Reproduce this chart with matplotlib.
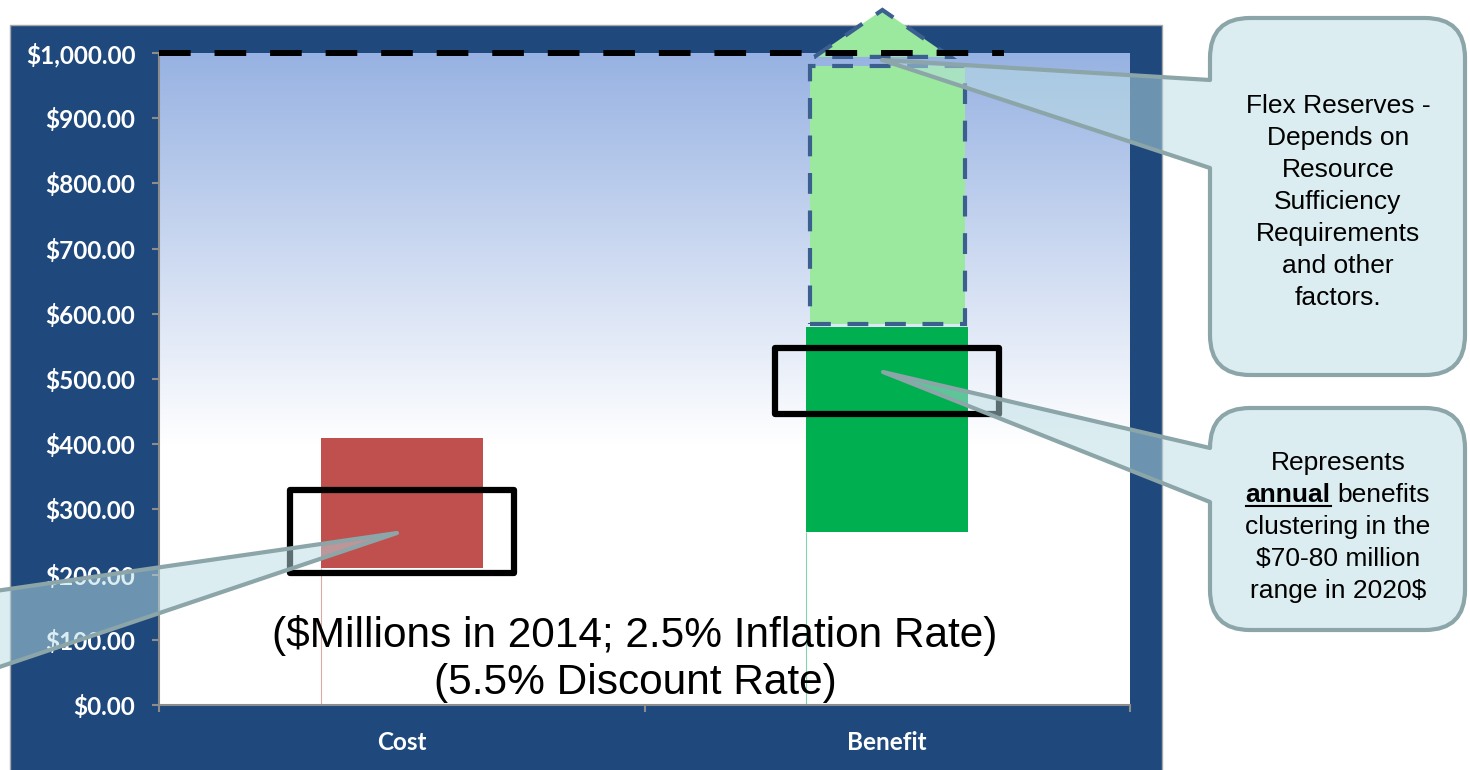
"""
Cost vs benefit ranges with flex reserve upside
"""

import numpy as np
import matplotlib
matplotlib.use("Agg")
import matplotlib.pyplot as plt
from matplotlib.patches import Rectangle, Polygon, PathPatch
from matplotlib.path import Path
from matplotlib.lines import Line2D
from matplotlib.colors import to_rgb, to_rgba

# ---- data ($ millions) ----
categories = ["Cost", "Benefit"]
firm_low = [210, 265]
firm_high = [410, 580]
firm_colors = ["#C0504D", "#00B050"]
cluster_low = [202, 447]
cluster_high = [330, 548]
flex_low = 585
flex_high = 980
flex_arrow_base = 994
flex_arrow_top = 1066
cap_value = 1000
y_ticks = np.arange(0, 1001, 100)

flex_text = ["Flex Reserves -", "Depends on", "Resource", "Sufficiency",
             "Requirements", "and other", "factors."]
annual_text = ["Represents", None, "clustering in the", "$70-80 million",
               "range in 2020$"]

W, H = 1470, 770
plt.rcParams['font.family'] = ['Liberation Sans', 'DejaVu Sans']

fig = plt.figure(figsize=(14.7, 7.7), dpi=100)
fig.set_facecolor("white")


def fpt(x, y):
    # pixel position (origin top left) -> figure fraction
    return (x / W, 1 - y / H)


# dark chart frame
frame = Rectangle(fpt(10, 772), 1152 / W, 747 / H, transform=fig.transFigure,
                  facecolor="#1F497D", edgecolor="#A6A6A6", lw=1, zorder=-1)
fig.add_artist(frame)

ax = fig.add_axes([159 / W, 1 - 705 / H, 971 / W, 652 / H])
ax.set_zorder(0)

# plot area gradient: light blue at the top fading to white
top = np.array(to_rgb("#97B2E2"))
vals = np.linspace(0, 1000, 400)
frac = np.clip((vals - 400) / 600, 0, 1)[::-1]
grad = 1 - frac[:, None] * (1 - top[None, :])
ax.imshow(grad[:, None, :], extent=[-0.5, 1.5, 0, 1000], aspect="auto",
          zorder=0, interpolation="bilinear")

x = np.arange(len(categories))
bar_w = 0.333
heights = [h - l for l, h in zip(firm_low, firm_high)]
ax.bar(x, heights, bottom=firm_low, width=bar_w, color=firm_colors, zorder=2)
ax.vlines(x - bar_w / 2, 0, firm_low, colors=firm_colors, lw=0.8, alpha=0.5, zorder=2)

# flex reserves block and arrow
flex_w = 0.32
ax.add_patch(Rectangle((1 - flex_w / 2, flex_low), flex_w, flex_high - flex_low,
                       facecolor="#9AE99E", edgecolor="#3B5F8F", lw=3,
                       ls=(0, (5, 4)), zorder=2))
ax.add_patch(Polygon([(0.85, flex_arrow_base), (0.99, flex_arrow_top), (1.13, flex_arrow_base)],
                     closed=True, facecolor="#9AE99E", edgecolor="#3B5F8F", lw=3,
                     ls=(0, (5, 4)), zorder=3, clip_on=False))

# cap line
ax.plot([-0.5, 1.24], [cap_value, cap_value], color="black", lw=4.3,
        ls=(0, (5.3, 4)), clip_on=False, zorder=4, dash_capstyle="butt")

# clustering boxes
box_w = 0.462
for xi, lo, hi in zip(x, cluster_low, cluster_high):
    ax.add_patch(Rectangle((xi - box_w / 2, lo), box_w, hi - lo, fill=False,
                           edgecolor="black", lw=4.5, joinstyle="round", zorder=3))

ax.set_xlim(-0.5, 1.5)
ax.set_ylim(0, 1000)
ax.set_yticks(y_ticks)
ax.set_yticklabels(["${:,.2f}".format(v) for v in y_ticks])
ax.set_xticks(x)
ax.set_xticklabels(categories)
ax.set_xticks([-0.5, 0.5, 1.5], minor=True)
for sp in ["top", "right"]:
    ax.spines[sp].set_visible(False)
for sp in ["left", "bottom"]:
    ax.spines[sp].set_color("#8C8C8C")
    ax.spines[sp].set_linewidth(1.5)
ax.tick_params(axis="y", colors="#8C8C8C", length=5, width=1.5, pad=12)
ax.tick_params(axis="x", which="major", length=0, pad=19)
ax.tick_params(axis="x", which="minor", colors="#8C8C8C", length=5, width=1.5)
for lab in ax.get_yticklabels() + ax.get_xticklabels():
    lab.set_color("white")
    lab.set_fontfamily("Lato")
    lab.set_fontweight("bold")
    lab.set_fontsize(17.5)

fig.text(*fpt(635, 659), "($Millions in 2014; 2.5% Inflation Rate)\n(5.5% Discount Rate)",
         fontsize=30.5, ha="center", va="center", linespacing=1.2, zorder=1)


# callout shapes
def callout(x0, y0, x1, y1, r, tip, j0, j1):
    pts = [(x0 + r, y0), (x1 - r, y0), (x1, y0), (x1, y0 + r),
           (x1, y1 - r), (x1, y1), (x1 - r, y1),
           (x0 + r, y1), (x0, y1), (x0, y1 - r),
           (x0, j1), tip, (x0, j0),
           (x0, y0 + r), (x0, y0), (x0 + r, y0), (x0 + r, y0)]
    codes = [Path.MOVETO, Path.LINETO, Path.CURVE3, Path.CURVE3,
             Path.LINETO, Path.CURVE3, Path.CURVE3,
             Path.LINETO, Path.CURVE3, Path.CURVE3,
             Path.LINETO, Path.LINETO, Path.LINETO,
             Path.LINETO, Path.CURVE3, Path.CURVE3, Path.CLOSEPOLY]
    path = Path([fpt(*p) for p in pts], codes)
    return PathPatch(path, transform=fig.transFigure, facecolor=to_rgba("#B9DDE3", 0.5),
                     edgecolor="#8BA5A8", lw=3, joinstyle="round", zorder=5)


fig.add_artist(callout(1210, 18, 1465, 375, 40, (882, 60), 80, 168))
fig.add_artist(callout(1210, 408, 1465, 630, 40, (883, 372), 448, 502))
left = Polygon([fpt(-60, 599), fpt(397, 533), fpt(-60, 687)], closed=True,
               transform=fig.transFigure, facecolor=to_rgba("#B9DDE3", 0.5),
               edgecolor="#8BA5A8", lw=3, joinstyle="round", zorder=5)
fig.add_artist(left)

cx = 1338
fs = 19
for i, line in enumerate(flex_text):
    fig.text(*fpt(cx, 103 + 32 * i + 10), line, fontsize=fs, ha="center",
             va="baseline", zorder=6)

renderer = fig.canvas.get_renderer()
for i, line in enumerate(annual_text):
    yb = 460 + 32 * i + 10
    if line is not None:
        fig.text(*fpt(cx, yb), line, fontsize=fs, ha="center", va="baseline", zorder=6)
        continue
    t1 = fig.text(0, 0, "annual", fontsize=fs, fontweight="bold", va="baseline", zorder=6)
    t2 = fig.text(0, 0, "benefits", fontsize=fs, va="baseline", zorder=6)
    w1 = t1.get_window_extent(renderer).width
    w2 = t2.get_window_extent(renderer).width
    gap = 7
    x_start = cx - (w1 + gap + w2) / 2
    t1.set_position(fpt(x_start, yb))
    t2.set_position(fpt(x_start + w1 + gap, yb))
    fig.add_artist(Line2D([x_start / W, (x_start + w1) / W], [1 - (yb + 4) / H] * 2,
                          transform=fig.transFigure, color="black", lw=1.5, zorder=6))

fig.savefig("out.png", dpi=100)
